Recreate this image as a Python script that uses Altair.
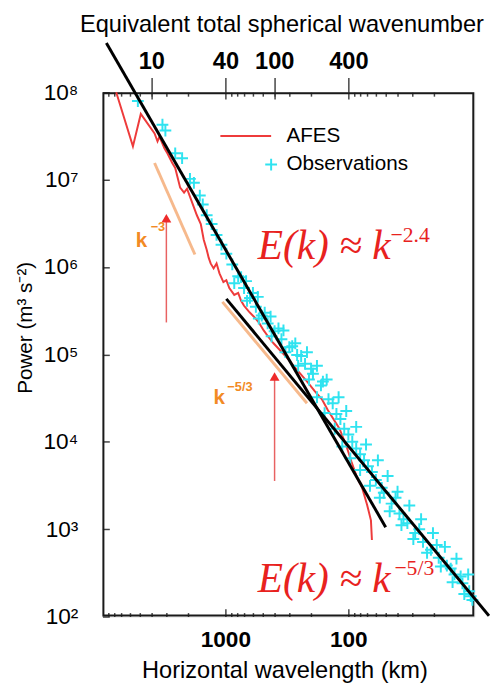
import altair as alt
import pandas as pd

# ---------------- data ----------------
series_names = ["AFES", "Observations"]

afes_wavelength_km = [7727, 5650, 4875, 3767, 3565, 3436, 3133, 2965, 2704, 2559,
                      2333, 2168, 2051, 1905, 1706, 1585, 1500, 1419, 1368, 1318,
                      1247, 1180, 1117, 1038, 982, 929, 847, 787, 745, 705,
                      643, 586, 535, 488, 445, 406, 325, 270, 213, 187,
                      164, 147, 118, 104, 94.6, 84.7, 77.3, 70.5, 65.5, 64.3]
afes_power = [1.00e8, 2.40e7, 5.65e7, 3.37e7, 2.74e7, 3.11e7, 2.28e7, 2.00e7, 1.55e7, 1.36e7,
              8.09e6, 7.10e6, 7.87e6, 5.93e6, 3.91e6, 3.10e6, 2.05e6, 1.58e6, 1.28e6, 1.10e6,
              9.64e5, 1.10e6, 8.47e5, 6.71e5, 7.06e5, 5.74e5, 4.79e5, 5.05e5, 4.10e5, 3.60e5,
              3.08e5, 2.70e5, 2.32e5, 1.88e5, 1.57e5, 1.34e5, 9.59e4, 7.03e4, 4.76e4, 3.78e4,
              3.06e4, 2.31e4, 1.41e4, 9.06e3, 5.98e3, 3.85e3, 2.97e3, 1.92e3, 1.26e3, 752]

obs_wavelength_km = [5150, 3250, 3076, 2559, 2249, 1941, 1803, 1614, 1528, 1419,
                     1294, 1180, 1076, 982, 879, 787, 705, 631, 565, 506,
                     453, 398, 350, 302, 261, 225, 194, 167, 145, 125,
                     108, 92.9, 80.2, 69.2, 59.7, 51.5, 44.5, 38.4, 33.1, 28.6,
                     24.7, 21.3, 18.4, 15.8, 13.7, 11.8, 10.4, 9.8,
                     679, 545, 429, 337, 270, 217, 180, 150, 120, 104,
                     86.3, 71.8, 57.5, 47.9, 39.8, 31.9, 25.6, 20.5, 16.4, 13.2, 10.6,
                     847, 667, 535, 421, 325, 256, 209, 180, 156, 129,
                     112, 96.4, 80.2, 66.7, 55.5, 46.1, 37.0, 29.6, 22.9, 17.7, 14.2, 11.4,
                     745, 597, 479, 370, 286, 242, 201, 161, 134, 116,
                     100, 86.3, 74.5, 64.3, 53.5, 41.3, 35.6, 26.5, 19.1, 14.7, 12.2, 10.1]
obs_power = [7.92e7, 4.25e7, 3.64e7, 2.00e7, 1.76e7, 1.02e7, 9.20e6, 6.57e6, 5.20e6, 3.91e6,
             3.10e6, 2.33e6, 1.80e6, 1.42e6, 1.07e6, 7.84e5, 5.74e5, 4.43e5, 3.51e5, 2.78e5,
             2.26e5, 1.84e5, 1.49e5, 1.21e5, 9.84e4, 7.80e4, 6.01e4, 4.41e4, 3.07e4, 2.08e4,
             1.41e4, 1.00e4, 7.18e3, 5.26e3, 3.66e3, 2.61e3, 1.96e3, 1.51e3, 1.17e3, 902,
             714, 580, 471, 383, 303, 240, 195, 155,
             6.89e5, 4.55e5, 2.71e5, 1.88e5, 1.34e5, 1.06e5, 7.40e4, 5.15e4, 3.23e4, 2.25e4,
             1.48e4, 9.30e3, 6.14e3, 4.06e3, 2.68e3, 1.86e3, 1.30e3, 902, 627, 459, 303,
             6.53e5, 4.10e5, 2.57e5, 1.61e5, 1.06e5, 7.40e4, 5.15e4, 3.23e4, 2.13e4, 1.41e4,
             8.83e3, 6.47e3, 4.74e3, 3.13e3, 2.29e3, 1.60e3, 1.11e3, 771, 537, 373, 247, 181,
             7.64e5, 5.05e5, 3.00e5, 1.98e5, 1.24e5, 9.59e4, 6.85e4, 4.89e4, 2.76e4, 1.82e4,
             1.21e4, 8.38e3, 6.14e3, 4.50e3, 2.97e3, 2.29e3, 1.30e3, 1.00e3, 660, 354, 288, 171]

# fitted power laws (end points)
fit24_wavelength_km = [9290, 49.7]
fit24_power = [3.66e8, 1053]
fit53_wavelength_km = [982, 7.18]
fit53_power = [4.32e5, 102]

# orange reference slopes
ref3_wavelength_km = [3767, 1770]
ref3_power = [1.55e7, 1.39e6]
ref53_wavelength_km = [1057, 217]
ref53_power = [3.99e5, 2.76e4]

# red arrows
arrow_wavelength_km = [3020, 398]
arrow_base_power = [2.32e5, 3.56e3]
arrow_tip_power = [3.62e6, 5.57e4]

# ticks
y_tick_values = [1e2, 1e3, 1e4, 1e5, 1e6, 1e7, 1e8]
y_tick_labels = ["10²", "10³", "10⁴", "10⁵", "10⁶", "10⁷", "10⁸"]
x_tick_values = [1000, 100]
x_tick_labels = ["1000", "100"]
x_minor_values = [9000, 8000, 7000, 6000, 5000, 4000, 3000, 2000,
                  900, 800, 700, 600, 500, 400, 300, 200,
                  90, 80, 70, 60, 50, 40, 30, 20]
top_tick_wavelength_km = [4000, 1000, 400, 100]
top_tick_labels = ["10", "40", "100", "400"]

# annotations
eq_text = ["E(k) ≈ k", "E(k) ≈ k"]
eq_wavelength_km = [545, 545]
eq_power = [1.22e6, 190]
eq_exp_text = ["−2.4", "−5/3"]
eq_exp_wavelength_km = [45.4, 42.2]
eq_exp_power = [1.94e6, 300]
slope_text = ["k", "k"]
slope_wavelength_km = [5346, 1247]
slope_power = [1.71e6, 2.69e4]
slope_exp_text = ["−3", "−5/3"]
slope_exp_wavelength_km = [4055, 964]
slope_exp_power = [2.58e6, 3.78e4]

# ---------------- styling ----------------
SANS = "Liberation Sans"
SERIF = "Liberation Serif"
RED = "#EE3B3B"
CYAN = "#2FE3F0"
ORANGE_LINE = "#F6B98C"
ORANGE_TXT = "#F28A24"
TICK = "#444444"
FRAME = "#1a1a1a"
PLUS = "M-1,0H1M0,-1V1"
LEGEND_LINE = "M-8.6,0H0"

W, H = 378, 533
INSET = 1
xs = alt.Scale(type="log", domain=[9.46, 10000], reverse=True, nice=False)
ys = alt.Scale(type="log", domain=[100, 1e8], nice=False)


def label_expr(values, labels):
    e = "''"
    for v, l in reversed(list(zip(values, labels))):
        e = f"(abs(datum.value - {v}) < {v} * 1e-6) ? '{l}' : ({e})"
    return e


def ticks_axis(orient, values, size):
    return alt.Axis(orient=orient, values=values, offset=-size, tickSize=size,
                    tickColor=TICK, tickWidth=1.5, labels=False, domain=False,
                    grid=False, title=None)


bottom_axis = alt.Axis(orient="bottom", values=x_tick_values,
                       labelExpr=label_expr(x_tick_values, x_tick_labels),
                       ticks=False, labelPadding=12, labelFont=SANS, labelFontSize=23,
                       labelFontWeight="bold", labelColor="black", labelFlush=False,
                       labelOverlap=False, domain=False, grid=False,
                       title="Horizontal wavelength (km)", titleFont=SANS,
                       titleFontSize=24, titleFontWeight="normal", titleColor="black",
                       titleX=185, titleY=62, titleBaseline="alphabetic", titleAlign="center")

left_axis = alt.Axis(orient="left", values=y_tick_values,
                     labelExpr=label_expr(y_tick_values, y_tick_labels),
                     ticks=False, labelPadding=25, labelFont=SANS, labelFontSize=23,
                     labelColor="black", labelFlush=False, labelOverlap=False,
                     domain=False, grid=False,
                     title="Power (m³ s⁻²)", titleFont=SANS, titleFontSize=21,
                     titleFontWeight="normal", titleColor="black", titleX=-72, titleY=239,
                     titleAngle=270, titleBaseline="alphabetic", titleAlign="center")

top_axis = alt.Axis(orient="top", values=top_tick_wavelength_km,
                    labelExpr=label_expr(top_tick_wavelength_km, top_tick_labels),
                    tickSize=15, tickColor=TICK, tickWidth=1.5, labelPadding=4,
                    labelFont=SANS, labelFontSize=24, labelFontWeight="bold",
                    labelColor="black", labelFlush=False, labelOverlap=False,
                    domain=False, grid=False,
                    title="Equivalent total spherical wavenumber", titleFont=SANS,
                    titleFontSize=24, titleFontWeight="normal", titleColor="black",
                    titleX=182, titleY=-62, titleBaseline="alphabetic", titleAlign="center")

legend = alt.Legend(orient="none", legendX=161, legendY=34, title=None,
                    symbolSize=144, symbolStrokeWidth=2, labelFont=SANS,
                    labelFontSize=21, labelColor="black", labelOffset=5, rowPadding=7)

color_scale = alt.Scale(domain=series_names, range=[RED, CYAN])
shape_scale = alt.Scale(domain=series_names, range=[LEGEND_LINE, PLUS])

# ---------------- layers ----------------
# plot frame drawn as a rectangle just inside the data area
frame = alt.Chart(pd.DataFrame({"frame": [0]})).mark_rect(
    fillOpacity=0, stroke=FRAME, strokeWidth=2, strokeOpacity=1
).encode(
    x=alt.value(INSET), x2=alt.value(W - INSET), y=alt.value(INSET), y2=alt.value(H - INSET)
)

df_afes = pd.DataFrame({"wl": afes_wavelength_km, "p": afes_power,
                        "series": series_names[0], "i": list(range(len(afes_power)))})
df_obs = pd.DataFrame({"wl": obs_wavelength_km, "p": obs_power, "series": series_names[1]})

afes = alt.Chart(df_afes).mark_line(strokeWidth=2).encode(
    x=alt.X("wl:Q", scale=xs, axis=bottom_axis),
    y=alt.Y("p:Q", scale=ys, axis=left_axis),
    color=alt.Color("series:N", scale=color_scale, legend=legend),
    order="i:Q",
)

obs = alt.Chart(df_obs).mark_point(size=144, filled=False, strokeWidth=2, opacity=1).encode(
    x=alt.X("wl:Q", scale=xs, axis=ticks_axis("bottom", x_minor_values, 4)),
    y=alt.Y("p:Q", scale=ys, axis=ticks_axis("left", y_tick_values, 7)),
    color=alt.Color("series:N", scale=color_scale, legend=legend),
    shape=alt.Shape("series:N", scale=shape_scale, legend=legend),
)


def seg(wl, p, color, width, xaxis=None, yaxis=None):
    df = pd.DataFrame({"wl": wl, "p": p, "i": list(range(len(p)))})
    return alt.Chart(df).mark_line(color=color, strokeWidth=width).encode(
        x=alt.X("wl:Q", scale=xs, axis=xaxis),
        y=alt.Y("p:Q", scale=ys, axis=yaxis),
        order="i:Q",
    )


fit24 = seg(fit24_wavelength_km, fit24_power, "black", 3,
            ticks_axis("bottom", x_tick_values, 8))
fit53 = seg(fit53_wavelength_km, fit53_power, "black", 3, top_axis)
ref3 = seg(ref3_wavelength_km, ref3_power, ORANGE_LINE, 3,
           ticks_axis("top", top_tick_wavelength_km, 7))
ref53 = seg(ref53_wavelength_km, ref53_power, ORANGE_LINE, 3,
            ticks_axis("top", x_minor_values, 4))

df_arrow = pd.DataFrame({"wl": arrow_wavelength_km, "p0": arrow_base_power, "p1": arrow_tip_power})
arrow_shaft = alt.Chart(df_arrow).mark_rule(color="#E86262", strokeWidth=1.5).encode(
    x=alt.X("wl:Q", scale=xs, axis=None),
    y=alt.Y("p0:Q", scale=ys, axis=None),
    y2="p1:Q",
)
arrow_head = alt.Chart(df_arrow).mark_point(shape="triangle-up", filled=True, size=100,
                                             color="#EE2A2A", opacity=1).encode(
    x=alt.X("wl:Q", scale=xs, axis=None),
    y=alt.Y("p1:Q", scale=ys, axis=None),
)


def text_layer(texts, wl, p, **style):
    df = pd.DataFrame({"wl": wl, "p": p, "t": texts})
    return alt.Chart(df).mark_text(align="left", baseline="alphabetic", **style).encode(
        x=alt.X("wl:Q", scale=xs, axis=None),
        y=alt.Y("p:Q", scale=ys, axis=None),
        text="t:N",
    )


eq = text_layer(eq_text, eq_wavelength_km, eq_power, font=SERIF, fontSize=42,
                fontStyle="italic", color="#E8221E")
eq_exp = text_layer(eq_exp_text, eq_exp_wavelength_km, eq_exp_power, font=SERIF,
                    fontSize=22, color="#E8221E")
slope = text_layer(slope_text, slope_wavelength_km, slope_power, font=SANS, fontSize=21,
                   fontWeight="bold", color=ORANGE_TXT)
slope_exp = text_layer(slope_exp_text, slope_exp_wavelength_km, slope_exp_power, font=SANS,
                       fontSize=13, fontWeight="bold", color=ORANGE_TXT)

chart = alt.layer(
    frame, afes, obs, fit24, fit53, ref3, ref53, arrow_shaft, arrow_head, eq, eq_exp, slope, slope_exp
).resolve_axis(x="independent", y="independent").properties(
    width=W, height=H,
    autosize=alt.AutoSizeParams(type="none"),
    padding={"left": 96, "top": 80, "right": 16, "bottom": 66},
    background="white",
)

chart.save("out.html", embed_options={"renderer": "svg", "actions": False})
